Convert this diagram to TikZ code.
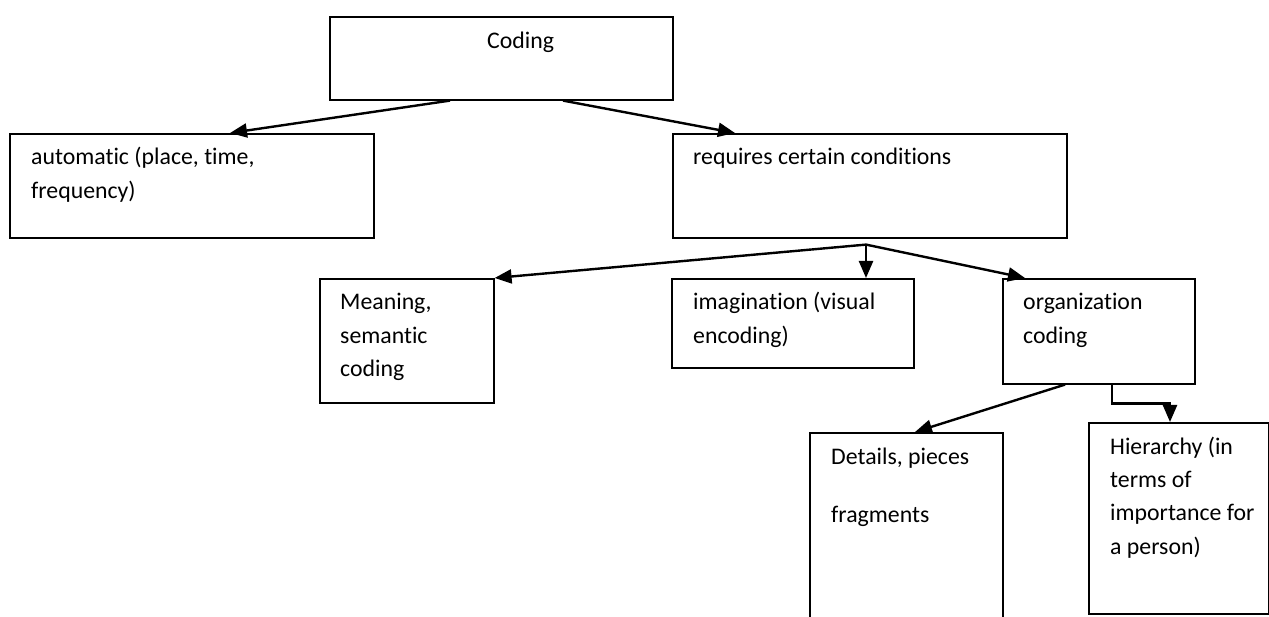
\documentclass[tikz,border=0pt]{standalone}
\usepackage{fontspec}
\setmainfont[Ligatures=NoCommon]{Carlito}
\usepackage{tikz}
\usetikzlibrary{arrows.meta}

\begin{document}
\begin{tikzpicture}[x=1pt, y=-1pt,
  box/.style={draw, line width=1.6pt, rectangle, inner sep=0pt, anchor=north west},
  txt/.style={anchor=base west, inner sep=0pt, align=left, font=\fontsize{23.8}{33.3}\selectfont},
  arr/.style={line width=2.4pt, -{Triangle[length=17pt, width=14pt]}}]
\useasboundingbox (0,0) rectangle (1269,617);
\clip (0,0) rectangle (1269,617);
\fill[white] (0,0) rectangle (1269,617);
\node[box, minimum width=343pt, minimum height=83pt] (coding) at (329,16) {};
\node[box, minimum width=364pt, minimum height=104pt] (autom) at (9,133) {};
\node[box, minimum width=394pt, minimum height=104pt] (requires) at (672,133) {};
\node[box, minimum width=174pt, minimum height=124pt] (meaning) at (319,278) {};
\node[box, minimum width=242pt, minimum height=89pt] (imag) at (671,278) {};
\node[box, minimum width=192pt, minimum height=105pt] (organ) at (1002,278) {};
\node[box, minimum width=193pt, minimum height=250pt] (details) at (809,432) {};
\node[box, minimum width=179.5pt, minimum height=191pt] (hier) at (1088,422) {};
\node[txt] (codingtxt) at ([shift={(158pt,-33pt)}]coding.north west) {Coding};
\node[txt] (automtxt) at ([shift={(22pt,-65.3pt)}]autom.north west) {automatic (place, time,\\frequency)};
\node[txt] (requirestxt) at ([shift={(21pt,-32pt)}]requires.north west) {requires certain conditions};
\node[txt] (meaningtxt) at ([shift={(21pt,-98.6pt)}]meaning.north west) {Meaning,\\semantic\\coding};
\node[txt] (imagtxt) at ([shift={(22pt,-65.3pt)}]imag.north west) {imagination (visual\\encoding)};
\node[txt] (organtxt) at ([shift={(21pt,-65.3pt)}]organ.north west) {organization\\coding};
\node[txt] (detailstxt) at ([shift={(22pt,-90.3pt)}]details.north west) {Details, pieces\\[25pt]fragments};
\node[txt] (hiertxt) at ([shift={(22pt,-132pt)}]hier.north west) {Hierarchy (in\\terms of\\importance for\\a person)};
\coordinate (fan) at ([shift={(194pt,-6pt)}]requires.south west);
\draw[arr] ([xshift=121pt]coding.south west) -- ([xshift=221pt]autom.north west);
\draw[arr] ([xshift=234pt]coding.south west) -- ([xshift=63pt]requires.north west);
\draw[arr] (fan) -- (meaning.north east);
\draw[arr] (fan) -- (fan |- imag.north);
\draw[arr] (fan) -- ([xshift=23pt]organ.north west);
\draw[arr] ([xshift=63pt]organ.south west) -- ([xshift=106pt]details.north west);
\draw[arr] ([xshift=110pt]organ.south west) -- ++(0,19) -| ([xshift=82pt]hier.north west);
\end{tikzpicture}
\end{document}
